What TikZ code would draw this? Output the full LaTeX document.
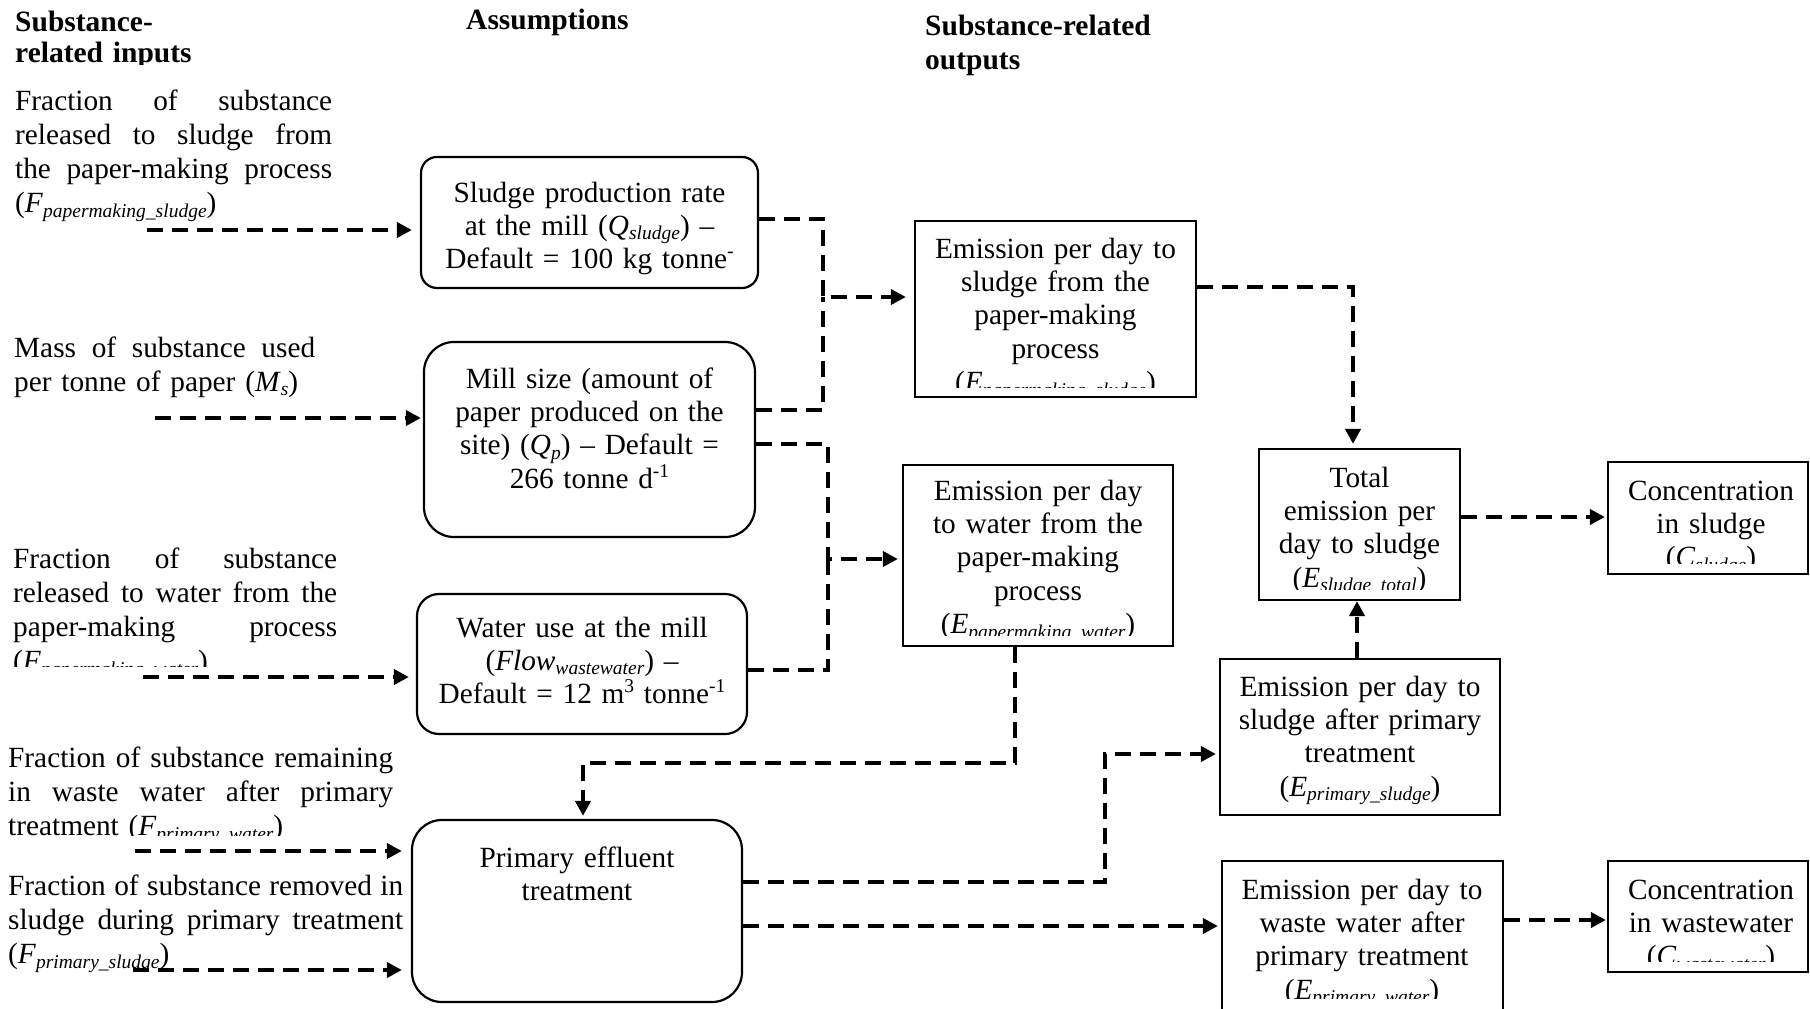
\documentclass[tikz,border=0pt]{standalone}
\usepackage{fontspec}
\setmainfont{Liberation Serif}
\usetikzlibrary{arrows.meta}
\newcommand\sbs[1]{\raisebox{-4.5pt}{\fontsize{19.5}{19.5}\selectfont\itshape #1}}
\newcommand\sps[1]{\raisebox{11pt}{\fontsize{19.5}{19.5}\selectfont #1}}
\newcommand\jl[2]{\makebox[#1][s]{\spaceskip=.25em plus 1fil\relax #2}}
\tikzset{
  rbox/.style={draw, line width=2.2pt, rounded corners=#1, inner sep=0pt},
  sbox/.style={draw, line width=2.2pt, inner sep=0pt},
  btxt/.style={font=\fontsize{29.3}{33.4}\selectfont, inner sep=0pt, align=center, anchor=base},
  ltxt/.style={font=\fontsize{29.3}{34.3}\selectfont, inner sep=0pt, align=left, anchor=base west},
  hdr/.style={font=\fontsize{29.5}{#1}\selectfont\bfseries, inner sep=0pt, align=left, anchor=base west, text width=320pt},
  dl/.style={line width=4pt, dash pattern=on 16pt off 9pt, -{Triangle[length=15pt,width=15pt]}},
  dln/.style={line width=4pt, dash pattern=on 16pt off 9pt}
}
\begin{document}
\begin{tikzpicture}[x=1pt,y=-1pt]
\useasboundingbox (0,0) rectangle (1810,1009);

% headers
\begin{scope}
\clip (0,0) rectangle (400,64);
\node[hdr=31] (h1) at (15,31) {Substance-\\related inputs};
\end{scope}
\node[hdr=31] (h2) at (466,29) {Assumptions};
\node[hdr=34] (h3) at (925,35) {Substance-related\\outputs};

% left input texts
\node[ltxt, text width=317pt] (l1) at (15,110) {\jl{317pt}{Fraction of substance}\\\jl{317pt}{released to sludge from}\\\jl{317pt}{the paper-making process}\\(\textit{F}\sbs{papermaking\_sludge})};
\node[ltxt, text width=301pt] (l2) at (14,357) {\jl{301pt}{Mass of substance used}\\per tonne of paper (\textit{M}\sbs{s})};
\begin{scope}
\clip (0,540) rectangle (400,666);
\node[ltxt, text width=324pt] (l3) at (13,568) {\jl{324pt}{Fraction of substance}\\\jl{324pt}{released to water from the}\\\jl{324pt}{paper-making process}\\(\textit{F}\sbs{papermaking\_water})};
\end{scope}
\begin{scope}
\clip (0,730) rectangle (410,835);
\node[ltxt, text width=385pt] (l4) at (8,767) {\jl{385pt}{Fraction of substance remaining}\\\jl{385pt}{in waste water after primary}\\treatment (\textit{F}\sbs{primary\_water})};
\end{scope}
\node[ltxt, text width=395pt] (l5) at (8,895) {\jl{395pt}{Fraction of substance removed in}\\\jl{395pt}{sludge during primary treatment}\\(\textit{F}\sbs{primary\_sludge})};

% assumption boxes
\node[rbox=16pt, minimum width=337pt, minimum height=131pt] (b1) at (589.5,222.5) {};
\node[rbox=30pt, minimum width=331pt, minimum height=195pt] (b2) at (589.5,439.5) {};
\node[rbox=22pt, minimum width=330pt, minimum height=140pt] (b3) at (582,664) {};
\node[rbox=30pt, minimum width=330pt, minimum height=182pt] (b4) at (577,911) {};

\node[btxt, text width=337pt] (t1) at (589.5,202) {Sludge production rate\\at the mill (\textit{Q}\sbs{sludge}) --\\Default = 100 kg tonne\sps{-}};
\node[btxt, text width=331pt] (t2) at (589.5,388) {Mill size (amount of\\paper produced on the\\site) (\textit{Q}\sbs{p}) -- Default =\\266 tonne d\sps{-1}};
\node[btxt, text width=330pt] (t3) at (582,637) {Water use at the mill\\(\textit{Flow}\sbs{wastewater}) --\\Default = 12 m\sps{3} tonne\sps{-1}};
\node[btxt, text width=330pt] (t4) at (577,867) {Primary effluent\\treatment};

% output boxes
\node[sbox, minimum width=281pt, minimum height=176pt] (b5) at (1055.5,309) {};
\node[sbox, minimum width=270pt, minimum height=181pt] (b6) at (1038,555.5) {};
\node[sbox, minimum width=201pt, minimum height=151pt] (b7) at (1359.5,524.5) {};
\node[sbox, minimum width=200pt, minimum height=112pt] (b8) at (1708,518) {};
\node[sbox, minimum width=280pt, minimum height=156pt] (b9) at (1360,737) {};
\node[sbox, minimum width=281pt, minimum height=154pt] (b10) at (1362.5,938) {};
\node[sbox, minimum width=200pt, minimum height=111pt] (b11) at (1708,916.5) {};

\begin{scope}
\clip (915,221) rectangle (1196,387);
\node[btxt, text width=281pt] (t5) at (1055.5,258) {Emission per day to\\sludge from the\\paper-making\\process\\(\textit{E}\sbs{papermaking\_sludge})};
\end{scope}
\begin{scope}
\clip (903,465) rectangle (1173,635);
\node[btxt, text width=270pt] (t6) at (1038,500) {Emission per day\\to water from the\\paper-making\\process\\(\textit{E}\sbs{papermaking\_water})};
\end{scope}
\begin{scope}
\clip (1259,449) rectangle (1460,589);
\node[btxt, text width=201pt] (t7) at (1359.5,487) {Total\\emission per\\day to sludge\\(\textit{E}\sbs{sludge\_total})};
\end{scope}
\begin{scope}
\clip (1608,462) rectangle (1808,563);
\node[btxt, text width=200pt] (t8) at (1711,500) {Concentration\\in sludge\\(\textit{C}\sbs{sludge})};
\end{scope}
\node[btxt, text width=280pt] (t9) at (1360,696) {Emission per day to\\sludge after primary\\treatment\\(\textit{E}\sbs{primary\_sludge})};
\begin{scope}
\clip (1222,861) rectangle (1503,998);
\node[btxt, text width=281pt] (t10) at (1362,899) {Emission per day to\\waste water after\\primary treatment\\(\textit{E}\sbs{primary\_water})};
\end{scope}
\begin{scope}
\clip (1608,861) rectangle (1808,961);
\node[btxt, text width=200pt] (t11) at (1711,899) {Concentration\\in wastewater\\(\textit{C}\sbs{wastewater})};
\end{scope}

% coordinates
\coordinate (in1) at (147,230);
\coordinate (in2) at (155,418);
\coordinate (in3) at (143,677);
\coordinate (in4) at (135,851);
\coordinate (in5) at (133,970);
\coordinate (c1a) at (823,219);
\coordinate (j1) at (823,297);
\coordinate (c2a) at (823,410);
\coordinate (c3a) at (828,444);
\coordinate (j2) at (828,559);
\coordinate (c4a) at (828,670);
\coordinate (c5a) at (1015,763);
\coordinate (c5b) at (583,763);
\coordinate (c6a) at (1105,882);
\coordinate (c6b) at (1105,754);
\coordinate (c7) at (800,926);
\coordinate (c8a) at (1353,287);
\coordinate (c9) at (1357,630);
\coordinate (c10) at (1500,517);
\coordinate (c11) at (1550,920);

% input arrows
\draw[dl, shorten >=8pt] (in1) -- (in1 -| b1.west);
\draw[dl, shorten >=2pt] (in2) -- (in2 -| b2.west);
\draw[dl, shorten >=7pt] (in3) -- (in3 -| b3.west);
\draw[dl, shorten >=9pt] (in4) -- (in4 -| b4.west);
\draw[dl, shorten >=9pt] (in5) -- (in5 -| b4.west);

% connectors
\draw[dl, shorten >=8pt] (b1.east |- c1a) -- (c1a) -- (j1) -- (b5.west |- j1);
\draw[dln] (b2.east |- c2a) -- (c2a) -- (j1);
\draw[dl, shorten >=4pt] (b2.east |- c3a) -- (c3a) -- (j2) -- (b6.west |- j2);
\draw[dln] (b3.east |- c4a) -- (c4a) -- (j2);
\draw[dl, shorten >=3pt] (b6.south -| c5a) -- (c5a) -- (c5b) -- (b4.north -| c5b);
\draw[dl, shorten >=3pt] (b4.east |- c6a) -- (c6a) -- (c6b) -- (b9.west |- c6b);
\draw[dl, shorten >=3pt] (b4.east |- c7) -- (b10.west |- c7);
\draw[dl, shorten >=4pt] (b5.east |- c8a) -- (c8a) -- (b7.north -| c8a);
\draw[dl] (b9.north -| c9) -- (b7.south -| c9);
\draw[dl, shorten >=2pt] (b7.east |- c10) -- (b8.west |- c10);
\draw[dl, shorten >=1pt] (b10.east |- c11) -- (b11.west |- c11);
\end{tikzpicture}
\end{document}
